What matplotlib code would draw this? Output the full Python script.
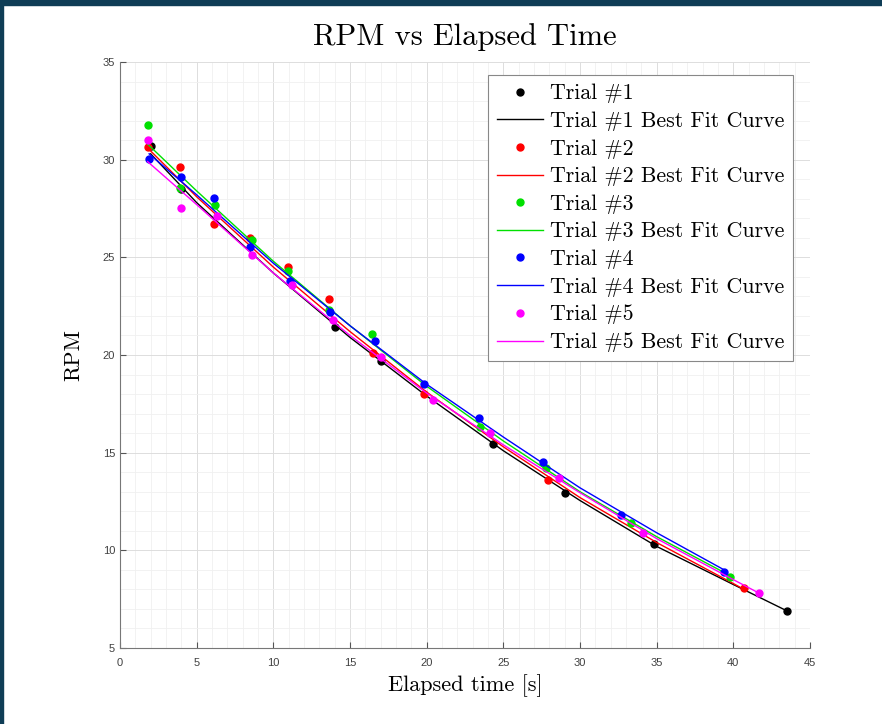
import matplotlib
import numpy as np

matplotlib.use("Agg")
import matplotlib.pyplot as plt  # noqa: E402
from matplotlib.patches import Rectangle  # noqa: E402

plt.rcParams["font.family"] = ["cmr10", "DejaVu Serif"]
plt.rcParams["mathtext.fontset"] = "cm"
plt.rcParams["axes.formatter.use_mathtext"] = True

t1 = [2.0, 4.0, 14.0, 17.0, 24.3, 29.0, 34.8, 43.5]
rpm1 = [30.7, 28.5, 21.45, 19.7, 15.45, 12.95, 10.3, 6.9]
t2 = [1.8, 3.9, 6.1, 8.5, 10.95, 13.6, 16.5, 19.8, 27.9, 40.7]
rpm2 = [30.65, 29.6, 26.7, 26.0, 24.5, 22.85, 20.1, 18.0, 13.6, 8.05]
t3 = [1.8, 3.9, 6.2, 8.6, 10.95, 13.6, 16.45, 23.5, 27.8, 33.3, 39.8]
rpm3 = [31.8, 28.55, 27.7, 25.9, 24.3, 22.3, 21.05, 16.3, 14.2, 11.4, 8.65]
t4 = [1.9, 4.0, 6.1, 8.5, 11.1, 13.7, 16.6, 19.8, 23.4, 27.6, 32.7, 39.4]
rpm4 = [30.05, 29.1, 28.05, 25.55, 23.8, 22.2, 20.7, 18.5, 16.8, 14.5, 11.8, 8.9]
t5 = [1.8, 4.0, 6.3, 8.6, 11.2, 13.9, 17.0, 20.4, 24.1, 28.6, 34.1, 41.7]
rpm5 = [31.0, 27.55, 27.1, 25.1, 23.6, 21.8, 19.9, 17.7, 16.0, 13.7, 10.9, 7.8]

# best fit curves, sampled off the figure
fit_t1 = [2.0, 5, 10, 15, 20, 25, 30, 35, 40, 43.5]
fit_rpm1 = [30.3, 27.8, 24.2, 20.9, 17.9, 15.1, 12.55, 10.2, 8.25, 6.9]
fit_t2 = [1.8, 5, 10, 15, 20, 25, 30, 35, 40, 40.7]
fit_rpm2 = [30.6, 28.1, 24.5, 21.2, 18.1, 15.3, 12.7, 10.4, 8.3, 8.0]
fit_t3 = [1.8, 5, 10, 15, 20, 25, 30, 35, 39.8]
fit_rpm3 = [30.8, 28.4, 24.8, 21.5, 18.4, 15.6, 13.0, 10.7, 8.7]
fit_t4 = [1.9, 5, 10, 15, 20, 25, 30, 35, 39.4]
fit_rpm4 = [30.3, 28.2, 24.7, 21.5, 18.5, 15.8, 13.2, 10.9, 9.0]
fit_t5 = [1.8, 5, 10, 15, 20, 25, 30, 35, 40, 41.7]
fit_rpm5 = [29.9, 27.7, 24.2, 21.0, 18.05, 15.4, 12.95, 10.6, 8.5, 7.8]

trial_names = ["Trial #1", "Trial #2", "Trial #3", "Trial #4", "Trial #5"]
colors = ["#000000", "#ff0000", "#00e000", "#0000ff", "#ff00ff"]

x_ticks = [0, 5, 10, 15, 20, 25, 30, 35, 40, 45]
y_ticks = [5, 10, 15, 20, 25, 30, 35]


def main():
    fig = plt.figure(figsize=(8.82, 7.24), dpi=100)
    ax = fig.add_axes([120 / 882, 1 - 648 / 724, 690 / 882, 586 / 724])

    data = [(t1, rpm1, fit_t1, fit_rpm1), (t2, rpm2, fit_t2, fit_rpm2),
            (t3, rpm3, fit_t3, fit_rpm3), (t4, rpm4, fit_t4, fit_rpm4),
            (t5, rpm5, fit_t5, fit_rpm5)]
    for (t, r, ft, fr), name, c in zip(data, trial_names, colors):
        ax.plot(t, r, "o", color=c, markersize=5, label=name)
        ax.plot(ft, fr, "-", color=c, linewidth=1.0, label=f"{name} Best Fit Curve")

    ax.set_xlim(0, 45)
    ax.set_ylim(5, 35)
    ax.set_xticks(x_ticks)
    ax.set_yticks(y_ticks)
    ax.set_xticks(np.arange(0, 46, 1), minor=True)
    ax.set_yticks(np.arange(5, 36, 1), minor=True)
    ax.set_xticklabels([str(v) for v in x_ticks])
    ax.set_yticklabels([str(v) for v in y_ticks])
    for lbl in ax.get_xticklabels() + ax.get_yticklabels():
        lbl.set_fontfamily("Liberation Sans")
        lbl.set_fontsize(8)
        lbl.set_color("#404040")

    ax.grid(which="major", color="#dddddd", linewidth=0.7)
    ax.grid(which="minor", color="#f0f0f0", linewidth=0.6)
    ax.set_axisbelow(True)
    ax.tick_params(which="major", direction="in", length=4, color="#555555")
    ax.tick_params(axis="x", which="major", pad=7)
    ax.tick_params(which="minor", length=0)
    for side in ("top", "right"):
        ax.spines[side].set_visible(False)
    for side in ("left", "bottom"):
        ax.spines[side].set_color("#777777")
        ax.spines[side].set_linewidth(0.8)

    ax.set_title("RPM vs Elapsed Time", fontsize=22, pad=12)
    ax.set_xlabel("Elapsed time [s]", fontsize=16, labelpad=5)
    ax.set_ylabel("RPM", fontsize=16, labelpad=14)

    leg = ax.legend(loc="upper right", bbox_to_anchor=(793 / 882, 1 - 75 / 724),
                    bbox_transform=fig.transFigure, fontsize=15.8, frameon=True,
                    fancybox=False, framealpha=1, edgecolor="#888888",
                    labelspacing=0.37, handlelength=2.1, handletextpad=0.3,
                    borderpad=0.4, borderaxespad=0)
    leg.get_frame().set_linewidth(0.8)

    # dark page border around the screenshot
    border = "#0f3d56"
    fig.patches.append(Rectangle((0, 1 - 5 / 724), 1, 5 / 724, transform=fig.transFigure,
                                 color=border, zorder=10))
    fig.patches.append(Rectangle((0, 0), 3 / 882, 1, transform=fig.transFigure,
                                 color=border, zorder=10))

    fig.savefig("out.png", dpi=100)
    plt.close(fig)


if __name__ == "__main__":
    main()
